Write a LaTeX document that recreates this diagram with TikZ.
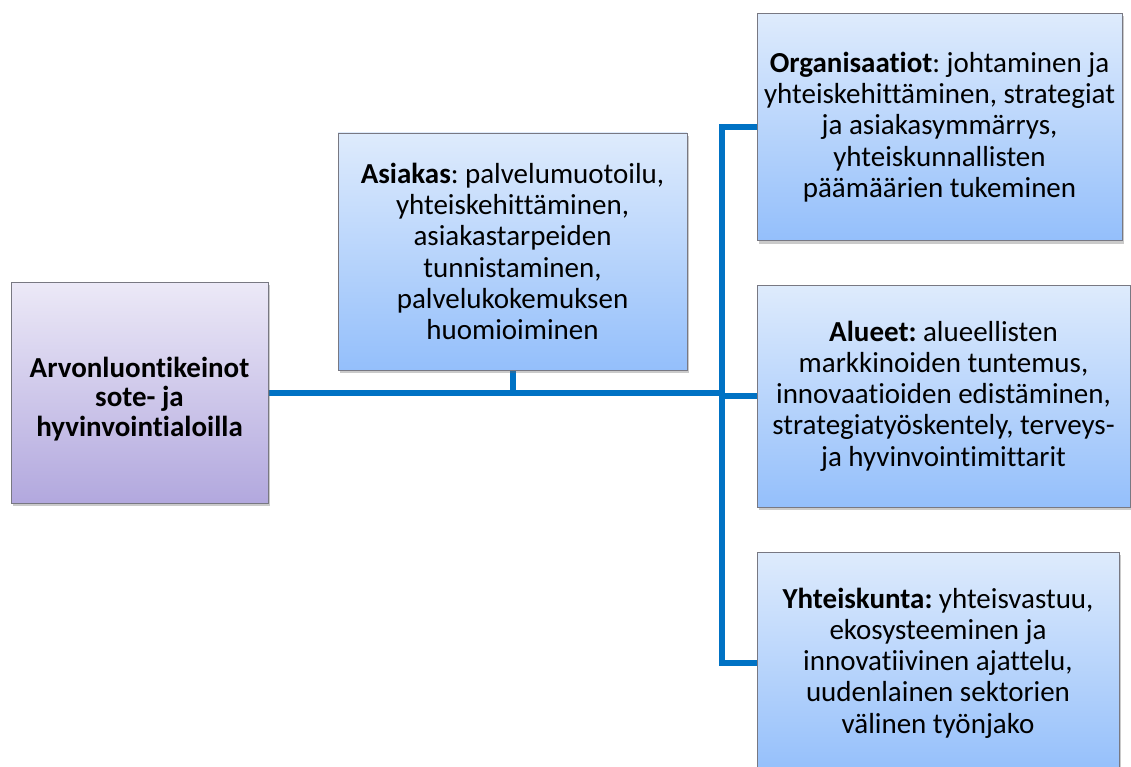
\documentclass[tikz,border=0pt]{standalone}
\usepackage{fontspec}
\setmainfont{Carlito}[Ligatures={NoCommon}]
\usetikzlibrary{shadows,backgrounds}
\frenchspacing
\definecolor{bus}{RGB}{0,114,196}
\definecolor{bluetop}{RGB}{222,235,252}
\definecolor{bluebot}{RGB}{148,191,251}
\definecolor{purtop}{RGB}{236,233,247}
\definecolor{purbot}{RGB}{178,168,222}
\definecolor{edge}{RGB}{120,120,130}
\tikzset{
  box/.style={draw=edge, line width=0.8pt, rectangle, align=center, inner sep=0pt,
    drop shadow={shadow xshift=2pt, shadow yshift=-3pt, opacity=0.35, fill=black!60}},
  bluebox/.style={box, top color=bluetop, bottom color=bluebot,
    font=\fontsize{29}{31.3}\selectfont\frenchspacing},
  purbox/.style={box, top color=purtop, bottom color=purbot,
    font=\fontsize{29}{29.5}\selectfont\bfseries},
  conn/.style={draw=bus, line width=6pt}
}
\begin{document}
\begin{tikzpicture}[x=1pt,y=-1pt]
\useasboundingbox (0,0) rectangle (1131,767);
\clip (0,0) rectangle (1131,767);
\node[purbox, minimum width=257pt, minimum height=221pt] (root) at (139.5,392.5)
  {\rule{0pt}{33pt}Arvonluontikeinot\\sote- ja\\hyvinvointialoilla};
\node[bluebox, minimum width=349pt, minimum height=237pt] (asiakas) at (512.5,251.5)
  {\textbf{Asiakas}: palvelumuotoilu,\\yhteiskehittäminen,\\asiakastarpeiden\\tunnistaminen,\\palvelukokemuksen\\huomioiminen};
\node[bluebox, minimum width=365pt, minimum height=227pt] (org) at (939.5,127)
  {\textbf{Organisaatiot}: johtaminen ja\\yhteiskehittäminen, strategiat\\ja asiakasymmärrys,\\yhteiskunnallisten\\päämäärien tukeminen};
\node[bluebox, minimum width=373pt, minimum height=222pt] (alueet) at (943.5,396)
  {\textbf{Alueet:} alueellisten\\markkinoiden tuntemus,\\innovaatioiden edistäminen,\\strategiatyöskentely, terveys-\\ja hyvinvointimittarit};
\node[bluebox, minimum width=362pt, minimum height=222pt] (yht) at (938,663)
  {\textbf{Yhteiskunta:} yhteisvastuu,\\ekosysteeminen ja\\innovatiivinen ajattelu,\\uudenlainen sektorien\\välinen työnjako};
\coordinate (busx) at (722,0);
\coordinate (jmain) at (busx |- root.east);
\coordinate (jasi) at (asiakas.south |- root.east);
\begin{scope}[on background layer]
\draw[conn] (root.east) -- (jmain);
\draw[conn] (asiakas.south) -- (jasi);
\draw[conn, line cap=rect, line join=miter] (org.west) -- (busx |- org.west) -- (busx |- yht.west) -- (yht.west);
\draw[conn] (busx |- alueet.west) -- (alueet.west);
\end{scope}
\end{tikzpicture}
\end{document}
